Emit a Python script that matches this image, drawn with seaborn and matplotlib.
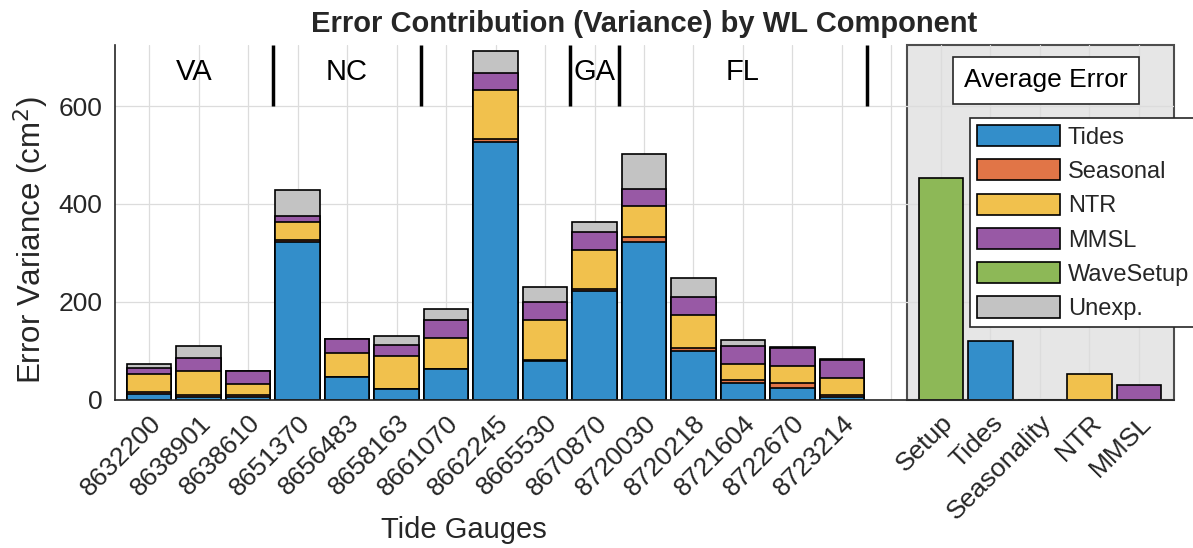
import numpy as np
import pandas as pd
import matplotlib
matplotlib.use("Agg")
import matplotlib.pyplot as plt
from matplotlib.patches import Patch
import seaborn as sns

# Tide gauge stations (NOAA IDs)
gauges = ["8632200", "8638901", "8638610", "8651370", "8656483", "8658163",
          "8661070", "8662245", "8665530", "8670870", "8720030", "8720218",
          "8721604", "8722670", "8723214"]

# Error variance contribution per component (cm^2)
tides    = [12, 5, 5, 322, 45, 22, 62, 526, 79, 222, 322, 99, 33, 23, 6]
seasonal = [3, 4, 4, 4, 0, 0, 0, 7, 1, 3, 10, 7, 7, 10, 3]
ntr      = [37, 50, 23, 36, 51, 67, 63, 100, 82, 80, 63, 67, 33, 36, 34]
mmsl     = [12, 26, 27, 14, 27, 23, 38, 35, 38, 37, 35, 37, 37, 36, 38]
unexp    = [8, 24, 0, 53, 0, 18, 23, 44, 30, 20, 73, 38, 12, 3, 2]

# Average error over all gauges
avg_labels = ["Setup", "Tides", "Seasonality", "NTR", "MMSL"]
avg_values = [454, 119, 0, 53, 29]

# State groupings along the coast
region_names = ["VA", "NC", "GA", "FL"]
region_bounds = [(-0.69, 2.5), (2.5, 5.5), (8.5, 9.5), (9.5, 14.5)]
dividers = [2.5, 5.5, 8.5, 9.5, 14.5]

# Colours (MATLAB default order, shown with 0.8 face alpha on white)
c_tides = "#338ECA"
c_seas = "#E17547"
c_ntr = "#F1C14D"
c_mmsl = "#9859A5"
c_setup = "#8DB857"
c_unexp = "#C3C3C3"

sns.set_style("white")
plt.rcParams["font.family"] = ["Liberation Sans", "DejaVu Sans"]

order = gauges + [" "] + avg_labels

df = pd.DataFrame({
    "station": gauges,
    "tides": tides, "seasonal": seasonal, "ntr": ntr,
    "mmsl": mmsl, "unexp": unexp,
})
# cumulative tops for stacked drawing (top layer first)
df["c1"] = df["tides"]
df["c2"] = df["c1"] + df["seasonal"]
df["c3"] = df["c2"] + df["ntr"]
df["c4"] = df["c3"] + df["mmsl"]
df["c5"] = df["c4"] + df["unexp"]

avg_df = pd.DataFrame({"component": avg_labels, "value": avg_values})
avg_colors = dict(zip(avg_labels, [c_setup, c_tides, c_seas, c_ntr, c_mmsl]))

fig = plt.figure(figsize=(11.93, 5.48), dpi=100)
ax = fig.add_axes([115 / 1193, 148.5 / 548, 1059 / 1193, 354.5 / 548])

bar_kw = dict(order=order, width=0.9, edgecolor="black", linewidth=1.2,
              saturation=1, errorbar=None, ax=ax)

for col, colr in [("c5", c_unexp), ("c4", c_mmsl), ("c3", c_ntr),
                  ("c2", c_seas), ("c1", c_tides)]:
    sns.barplot(data=df, x="station", y=col, color=colr, **bar_kw)

sns.barplot(data=avg_df, x="component", y="value", hue="component",
            palette=avg_colors, legend=False, **bar_kw)

xmin, xmax = -0.69, 20.71
ax.set_xlim(xmin, xmax)
ax.set_ylim(0, 725)

# shaded panel for the averages
ax.axvspan(15.31, xmax, ymin=0, ymax=1, facecolor="#E6E6E6",
           edgecolor="#4D4D4D", linewidth=1.5, zorder=0.2, clip_on=False)

ax.set_axisbelow(True)
ax.grid(True, axis="both", color="#DCDCDC", linewidth=0.9)
ax.set_yticks([0, 200, 400, 600])
ax.set_xticks(range(len(order)))
ax.set_xticklabels(order, rotation=45, ha="right", va="top",
                   rotation_mode="anchor", fontsize=19)
ax.tick_params(axis="y", labelsize=19, pad=9)
ax.tick_params(direction="in", length=5, color="#262626",
               labelcolor="#262626", width=1)
ax.tick_params(axis="x", pad=8)

for s in ["top", "right"]:
    ax.spines[s].set_visible(False)
for s in ["left", "bottom"]:
    ax.spines[s].set_color("#262626")
    ax.spines[s].set_linewidth(1.2)
ax.spines["bottom"].set_zorder(5)

# state dividers and names
ax.vlines(dividers, 600, 725, color="black", linewidth=2.5, zorder=4)
for name, (a, b) in zip(region_names, region_bounds):
    ax.text((a + b) / 2, 670, name, ha="center", va="center",
            fontsize=21, color="black")

ax.set_ylabel("Error Variance (cm$^2$)", fontsize=22.5, color="#262626")
ax.set_xlabel("Tide Gauges", fontsize=21, color="#262626")
ax.yaxis.set_label_coords(-0.060, 0.45)
ax.xaxis.set_label_coords(0.329, -0.33)
ax.set_title("Error Contribution (Variance) by WL Component",
             fontsize=21, fontweight="bold", pad=9)

ax.text(0.879, 0.90, "Average Error", transform=ax.transAxes,
        ha="center", va="center", fontsize=19, color="black", zorder=6,
        bbox=dict(boxstyle="square,pad=0.42", facecolor="white",
                  edgecolor="#262626", linewidth=1.2))

handles = [Patch(facecolor=c, edgecolor="black", linewidth=1.2, label=l)
           for c, l in [(c_tides, "Tides"), (c_seas, "Seasonal"),
                        (c_ntr, "NTR"), (c_mmsl, "MMSL"),
                        (c_setup, "WaveSetup"), (c_unexp, "Unexp.")]]
leg = ax.legend(handles=handles, loc="upper left",
                bbox_to_anchor=(970 / 1193, 1 - 118 / 548),
                bbox_transform=fig.transFigure, borderaxespad=0,
                frameon=True, fancybox=False, framealpha=1,
                edgecolor="#262626", fontsize=17, handlelength=3.5,
                handleheight=1.0, labelspacing=0.45, handletextpad=0.35,
                borderpad=0.3)
leg.get_frame().set_linewidth(1.2)
leg.set_zorder(7)

fig.savefig("out.png", dpi=100)
